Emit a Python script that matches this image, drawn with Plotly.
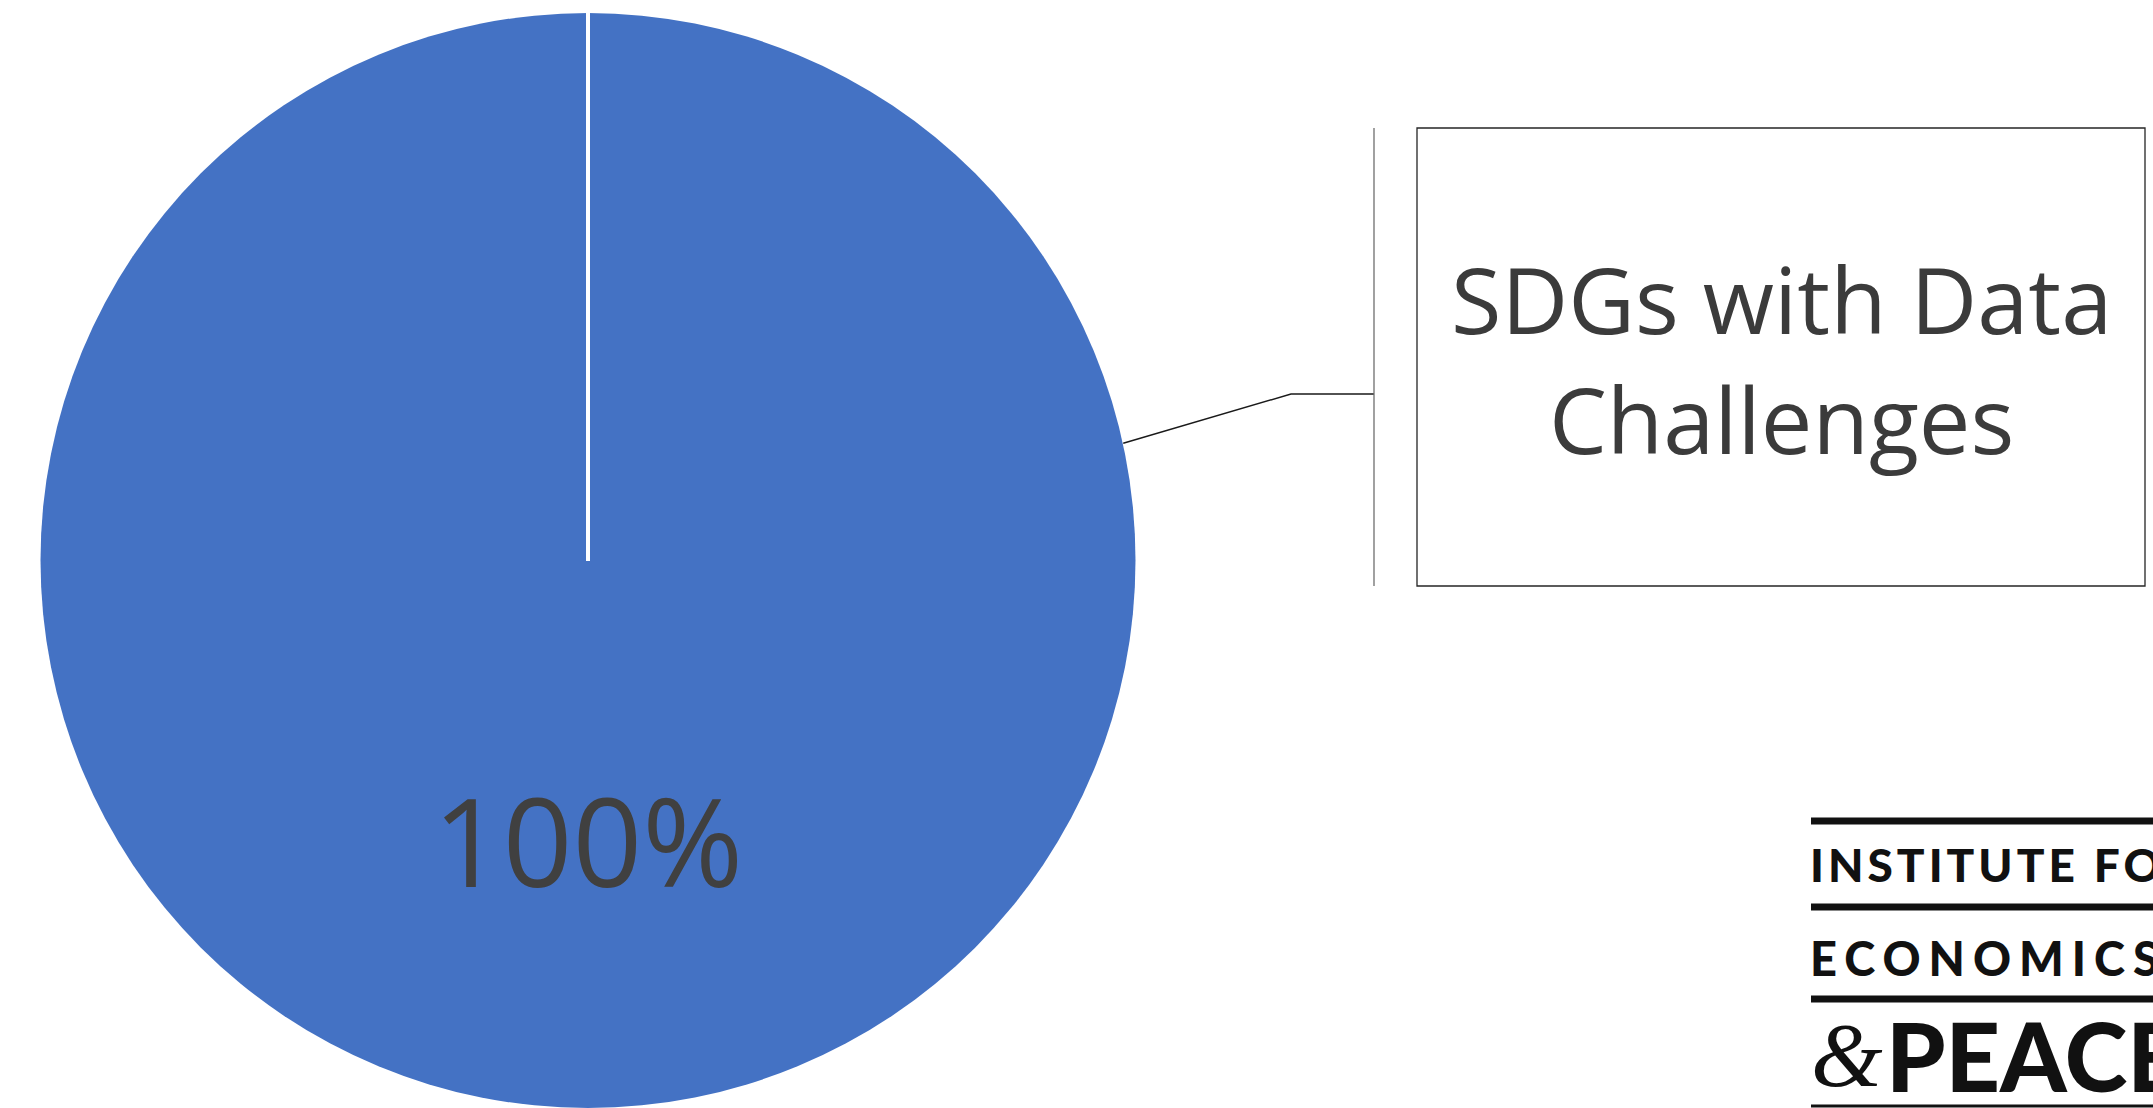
import math
import plotly.graph_objects as go

# ---- data ----
labels = ["SDGs with Data Challenges"]
values = [100]
slice_colors = ["#4472C4"]
callout_text = ["SDGs with Data", "Challenges"]
logo_lines = ["INSTITUTE FOR", "ECONOMICS", "PEACE"]

W, H = 2153, 1108


def px(x):
    return x / W


def py(y):
    return 1 - y / H


def tracked(text, spacing):
    return f'<span style="letter-spacing:{spacing}px;font-weight:900">{text}</span>'


# pie geometry (pixels)
cx, cy, r = 588, 561, 548
rotation = 0  # first slice starts at 12 o'clock

fig = go.Figure()
fig.add_trace(go.Pie(
    labels=labels,
    values=values,
    marker=dict(colors=slice_colors, line=dict(width=0)),
    textinfo="none",
    sort=False,
    direction="clockwise",
    rotation=rotation,
    domain=dict(x=[px(cx - r), px(cx + r)], y=[max(0, py(cy + r)), py(cy - r)]),
    showlegend=False,
    hoverinfo="label+percent",
))

total = sum(values)
shapes = []
annotations = []

# slice boundary at the start angle
a0 = math.radians(rotation)
shapes.append(dict(type="line", xref="paper", yref="paper",
                   x0=px(cx), y0=py(cy),
                   x1=px(cx + r * math.sin(a0)), y1=py(cy - r * math.cos(a0)),
                   line=dict(color="white", width=4)))

# percentage label at the middle angle of the slice, half way out
cum = 0
for v in values:
    share = v / total
    mid = math.radians(rotation + 360 * (cum + share / 2))
    lx = cx + 0.51 * r * math.sin(mid)
    ly = cy - 0.51 * r * math.cos(mid)
    annotations.append(dict(xref="paper", yref="paper", x=px(lx), y=py(ly),
                            text=f"{share:.0%}", showarrow=False,
                            xanchor="center", yanchor="middle",
                            font=dict(family="Open Sans", size=122, color="#404040")))
    cum += share

# leader line from the pie edge to the callout
edge_ang = math.radians(77.6)
ex = cx + r * math.sin(edge_ang)
ey = cy - r * math.cos(edge_ang)
elbow_x, elbow_y = 1291, 394
bar_x = 1374
shapes.append(dict(type="path", xref="paper", yref="paper",
                   path=f"M {px(ex)} {py(ey)} L {px(elbow_x)} {py(elbow_y)} L {px(bar_x)} {py(elbow_y)}",
                   line=dict(color="#1a1a1a", width=1.5)))
shapes.append(dict(type="line", xref="paper", yref="paper",
                   x0=px(bar_x), x1=px(bar_x), y0=py(128), y1=py(586),
                   line=dict(color="#6e6e6e", width=1.3)))

# callout box
bx0, by0, bx1, by1 = 1417, 128, 2145, 586
shapes.append(dict(type="rect", xref="paper", yref="paper",
                   x0=px(bx0), x1=px(bx1), y0=py(by0), y1=py(by1),
                   line=dict(color="#262626", width=1.3), fillcolor="rgba(0,0,0,0)"))
annotations.append(dict(xref="paper", yref="paper", x=px((bx0 + bx1) / 2), y=py((by0 + by1) / 2 + 2),
                        text="<br>".join(callout_text), showarrow=False,
                        xanchor="center", yanchor="middle", align="center",
                        font=dict(family="Open Sans", size=92, color="#3b3b3b")))

# logo block, bottom right
lx0 = 1811
for yy, w in [(821, 7), (907, 7), (999, 7), (1106, 3)]:
    shapes.append(dict(type="line", xref="paper", yref="paper",
                       x0=px(lx0), x1=1.05, y0=py(yy), y1=py(yy),
                       line=dict(color="#111111", width=w)))
annotations.append(dict(xref="paper", yref="paper", x=px(lx0 - 3), y=py(864),
                        text=tracked(logo_lines[0], 4), showarrow=False, xanchor="left", yanchor="middle",
                        font=dict(family="Lato", size=46, color="#111111", weight=900)))
annotations.append(dict(xref="paper", yref="paper", x=px(lx0 - 3), y=py(958),
                        text=tracked(logo_lines[1], 8), showarrow=False, xanchor="left", yanchor="middle",
                        font=dict(family="Lato", size=47, color="#111111", weight=900)))
annotations.append(dict(xref="paper", yref="paper", x=px(lx0 - 2), y=py(1055),
                        text="&amp;", showarrow=False, xanchor="left", yanchor="middle",
                        font=dict(family="Liberation Serif", size=92, color="#111111", style="italic")))
annotations.append(dict(xref="paper", yref="paper", x=px(1884), y=py(1055),
                        text=tracked(logo_lines[2], 0), showarrow=False, xanchor="left", yanchor="middle",
                        font=dict(family="Lato", size=95, color="#111111", weight=900)))

fig.update_layout(
    width=W, height=H,
    margin=dict(l=0, r=0, t=0, b=0),
    paper_bgcolor="white", plot_bgcolor="white",
    shapes=shapes, annotations=annotations,
)

fig.write_html("out.html")
